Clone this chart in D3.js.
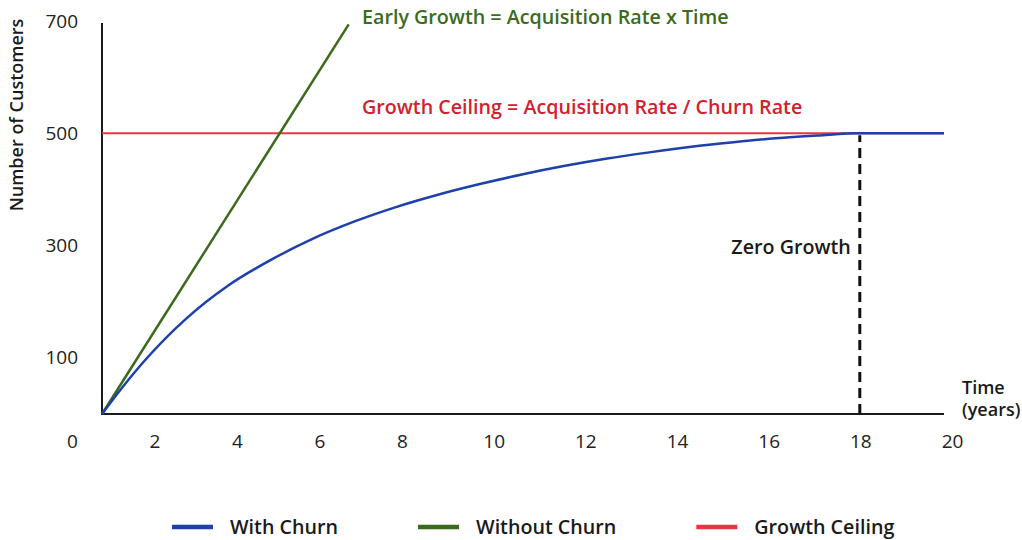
<!DOCTYPE html>
<html>
<head>
<meta charset="utf-8">
<script src="https://cdn.jsdelivr.net/npm/d3@7"></script>
<style>
  html, body { margin: 0; padding: 0; background: #fff; }
  svg { display: block; font-family: "Open Sans", "Noto Sans", sans-serif; }
</style>
</head>
<body>
<svg id="chart" width="1022" height="540"></svg>
<script>
// Customer growth with and without churn
const years = [0, 0.5, 1, 2, 3, 4, 5, 6, 7, 8, 9, 10, 11, 12, 13, 14, 15, 16, 17, 18, 19, 20];
const withChurn = [0, 49, 94, 170, 229, 274, 312, 343, 369, 391, 410, 427, 442, 455, 466, 476, 484, 491, 496, 500, 500, 500];
const withoutChurnYears = [0, 5.86];
const withoutChurn = [0, 694];
const ceilingYears = [0, 20];
const ceiling = [500, 500];
const zeroGrowthYear = 18;

const xTickValues = [0, 2, 4, 6, 8, 10, 12, 14, 16, 18, 20];
const yTickValues = [100, 300, 500, 700];

const seriesNames = ["With Churn", "Without Churn", "Growth Ceiling"];
const seriesColors = ["#1d40ac", "#3a6a1c", "#ec3340"];

const svg = d3.select("#chart");

// layout
const plotLeft = 102, plotRight = 944, axisY = 414, plotTop = 23;

// time scale for the plotted series
const x = d3.scaleLinear().domain([0, 20]).range([plotLeft, plotRight]);
// the printed year labels sit on their own piecewise scale
const xLabel = d3.scaleLinear().domain([0, 8, 20]).range([72, 402, 952]);
const y = d3.scaleLinear().domain([0, 700]).range([axisY, 21]);

const line = d3.line().x(d => x(d[0])).y(d => y(d[1]));

// axes lines
svg.append("line")
  .attr("x1", x(0)).attr("x2", x(0))
  .attr("y1", y(0) + 1).attr("y2", plotTop)
  .attr("stroke", "#1a1a1a").attr("stroke-width", 2);
svg.append("line")
  .attr("x1", x(0)).attr("x2", x(20))
  .attr("y1", y(0)).attr("y2", y(0))
  .attr("stroke", "#1a1a1a").attr("stroke-width", 2);

// tick labels
const gx = svg.append("g")
  .attr("transform", `translate(0,${axisY})`)
  .call(d3.axisBottom(xLabel).tickValues(xTickValues).tickSize(0).tickPadding(21).tickFormat(d3.format("d")));
gx.select(".domain").remove();
gx.selectAll("text").attr("font-size", 19).attr("fill", "#222").attr("font-family", "Open Sans");

const gy = svg.append("g")
  .attr("transform", `translate(${plotLeft},0)`)
  .call(d3.axisLeft(y).tickValues(yTickValues).tickSize(0).tickPadding(24));
gy.select(".domain").remove();
gy.selectAll("text").attr("font-size", 19).attr("fill", "#222").attr("font-family", "Open Sans");

// zero growth marker
svg.append("line")
  .attr("x1", x(zeroGrowthYear)).attr("x2", x(zeroGrowthYear))
  .attr("y1", y(0)).attr("y2", y(ceiling[0]) + 2)
  .attr("stroke", "#111").attr("stroke-width", 3)
  .attr("stroke-dasharray", "10,6");

// series
svg.append("path")
  .datum(ceilingYears.map((t, i) => [t, ceiling[i]]))
  .attr("d", line).attr("fill", "none")
  .attr("stroke", seriesColors[2]).attr("stroke-width", 2);

svg.append("path")
  .datum(withoutChurnYears.map((t, i) => [t, withoutChurn[i]]))
  .attr("d", line).attr("fill", "none")
  .attr("stroke", seriesColors[1]).attr("stroke-width", 2.5);

svg.append("path")
  .datum(years.map((t, i) => [t, withChurn[i]]))
  .attr("d", line.curve(d3.curveMonotoneX)).attr("fill", "none")
  .attr("stroke", seriesColors[0]).attr("stroke-width", 2.5);

// annotations
svg.append("text").attr("x", 362).attr("y", 24)
  .attr("font-size", 19.7).attr("font-weight", 600).attr("fill", "#3b6b1e")
  .text("Early Growth = Acquisition Rate x Time");
svg.append("text").attr("x", 362).attr("y", 114)
  .attr("font-size", 19.7).attr("font-weight", 600).attr("fill", "#d3202f")
  .text("Growth Ceiling = Acquisition Rate / Churn Rate");
svg.append("text").attr("x", x(zeroGrowthYear) - 9).attr("y", 254)
  .attr("text-anchor", "end")
  .attr("font-size", 19.7).attr("font-weight", 600).attr("fill", "#1a1a1a")
  .text("Zero Growth");
svg.append("text").attr("x", 962).attr("y", 394)
  .attr("font-size", 18).attr("font-weight", 600).attr("fill", "#1a1a1a")
  .text("Time");
svg.append("text").attr("x", 962).attr("y", 416)
  .attr("font-size", 18).attr("font-weight", 600).attr("fill", "#1a1a1a")
  .text("(years)");
svg.append("text")
  .attr("transform", "translate(23,115) rotate(-90)")
  .attr("text-anchor", "middle")
  .attr("font-size", 18).attr("font-weight", 600).attr("fill", "#1a1a1a")
  .text("Number of Customers");

// legend
const legend = svg.append("g").attr("transform", "translate(172,527)");
let lx = 0;
seriesNames.forEach((name, i) => {
  const g = legend.append("g").attr("transform", `translate(${lx},0)`);
  g.append("line").attr("x1", 0).attr("x2", 41).attr("y1", 0).attr("y2", 0)
    .attr("stroke", seriesColors[i]).attr("stroke-width", 4.5);
  const t = g.append("text").attr("x", 58).attr("y", 7)
    .attr("font-size", 19.7).attr("font-weight", 600).attr("fill", "#1a1a1a")
    .text(name);
  lx += 58 + t.node().getComputedTextLength() + 80;
});
</script>
</body>
</html>
